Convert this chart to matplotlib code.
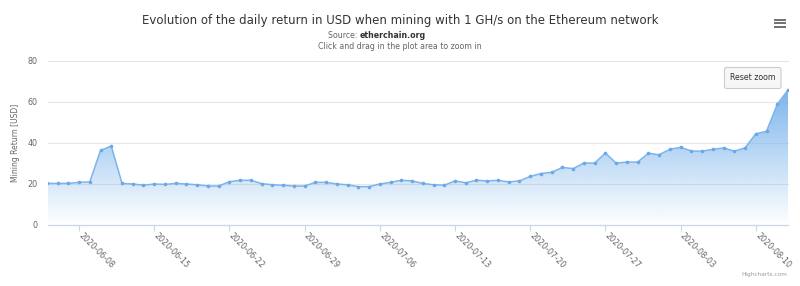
import numpy as np
import matplotlib
matplotlib.use("Agg")
import matplotlib.pyplot as plt
import matplotlib.dates as mdates
import matplotlib.transforms as mtransforms
from matplotlib.patches import FancyBboxPatch
from matplotlib.lines import Line2D
import datetime as dt

# ---------------- data ----------------
start_date = "2020-06-05"
returns_usd = [20.3, 20.3, 20.3, 20.8, 21.0, 36.4, 38.5, 20.3, 20.0, 19.4,
               20.0, 19.8, 20.3, 20.0, 19.6, 19.0, 19.0, 21.1, 21.8, 21.8,
               20.2, 19.6, 19.4, 19.0, 19.0, 20.8, 20.8, 20.0, 19.6, 18.7,
               18.7, 20.0, 20.8, 21.8, 21.5, 20.3, 19.6, 19.4, 21.5, 20.6,
               21.8, 21.5, 21.8, 21.0, 21.5, 23.7, 25.1, 25.7, 28.1, 27.5,
               30.2, 30.2, 35.1, 30.2, 30.7, 30.7, 35.0, 34.3, 36.9, 37.9,
               36.1, 36.0, 36.9, 37.6, 36.0, 37.6, 44.5, 45.7, 58.9, 65.9]
tick_labels = ["2020-06-08", "2020-06-15", "2020-06-22", "2020-06-29",
               "2020-07-06", "2020-07-13", "2020-07-20", "2020-07-27",
               "2020-08-03", "2020-08-10"]
y_ticks = [0, 20, 40, 60, 80]

title = "Evolution of the daily return in USD when mining with 1 GH/s on the Ethereum network"
subtitle_prefix = "Source: "
subtitle_link = "etherchain.org"
subtitle_line2 = "Click and drag in the plot area to zoom in"
y_title = "Mining Return [USD]"

# ---------------- setup ----------------
W, H = 800, 286
fig = plt.figure(figsize=(W / 100, H / 100), dpi=100)
plt.rcParams["font.family"] = ["DejaVu Sans"]

def fx(px):
    return px / W

def fy(py):
    return 1 - py / H

ax_l, ax_r, ax_t, ax_b = 48, 788, 61, 225
ax = fig.add_axes([fx(ax_l), fy(ax_b), fx(ax_r) - fx(ax_l), (ax_b - ax_t) / H])

d0 = dt.datetime.strptime(start_date, "%Y-%m-%d")
dates = [d0 + dt.timedelta(days=i) for i in range(len(returns_usd))]
xs = mdates.date2num(dates)
ys = np.array(returns_usd)

color = "#7cb5ec"
rgb = matplotlib.colors.to_rgb(color)

xmin = xs[0] + 0.11
xmax = xs[-1]

# gradient fill
n = 256
grad = np.zeros((n, 1, 4))
grad[..., 0], grad[..., 1], grad[..., 2] = rgb
grad[:, 0, 3] = np.linspace(0, 1, n)
poly = ax.fill_between(xs, ys, 0, facecolor="none", edgecolor="none")
im = ax.imshow(grad, extent=[xs[0], xs[-1], 0, ys.max()], origin="lower",
               aspect="auto", zorder=1, interpolation="bilinear")
im.set_clip_path(poly.get_paths()[0], transform=ax.transData)

ax.plot(xs, ys, color=color, lw=1.1, zorder=3, marker="o", markersize=2.6,
        markeredgewidth=0, markerfacecolor="#6aa8e6")

ax.set_xlim(xmin, xmax)
ax.set_ylim(0, 80)

# grid / spines
ax.set_yticks(y_ticks)
ax.yaxis.grid(True, color="#e6e6e6", lw=0.8)
for gl in ax.get_ygridlines():
    gl.set_clip_on(False)
ax.set_axisbelow(True)
for s in ["top", "right", "left"]:
    ax.spines[s].set_visible(False)
ax.spines["bottom"].set_color("#ccd6eb")
ax.spines["bottom"].set_linewidth(0.9)
ax.spines["bottom"].set_zorder(4)

ax.tick_params(axis="y", length=0, pad=7.5, labelsize=5.8, labelcolor="#666666")
ax.set_yticklabels([str(v) for v in y_ticks])

tick_pos = mdates.date2num([dt.datetime.strptime(t, "%Y-%m-%d") for t in tick_labels])
ax.set_xticks(tick_pos)
ax.set_xticklabels(tick_labels)
ax.tick_params(axis="x", length=4.5, width=0.8, color="#ccd6eb", pad=2,
               labelsize=5.8, labelcolor="#666666")
offset = mtransforms.ScaledTranslation(1 / 100, 0, fig.dpi_scale_trans)
for lab in ax.get_xticklabels():
    lab.set_rotation(-45)
    lab.set_ha("left")
    lab.set_va("center")
    lab.set_rotation_mode("anchor")
    lab.set_transform(lab.get_transform() + offset)

ylab = ax.set_ylabel(y_title, color="#666666", fontsize=5.6)
ax.yaxis.set_label_coords((20 - ax_l) / (ax_r - ax_l), 0.5)

# ---------------- texts ----------------
renderer = fig.canvas.get_renderer()

def fit(t, width_px, vertical=False):
    bb = t.get_window_extent(renderer)
    cur = bb.height if vertical else bb.width
    t.set_fontsize(t.get_fontsize() * width_px / cur)

t_title = fig.text(0.5, fy(20.5), title, ha="center", va="center",
                   color="#333333", fontsize=9)
fit(t_title, 516)

t_sub2 = fig.text(0.5, fy(46.5), subtitle_line2, ha="center", va="center",
                  color="#666666", fontsize=6)
fit(t_sub2, 164)
fs_sub = t_sub2.get_fontsize()

t_pre = fig.text(fx(328), fy(35.5), subtitle_prefix, ha="left", va="center",
                 color="#666666", fontsize=fs_sub)
bb = t_pre.get_window_extent(renderer)
t_link = fig.text(fx(328) + bb.width / W, fy(35.5), subtitle_link, ha="left",
                  va="center", color="#333333", fontsize=fs_sub, fontweight="bold")

fit(ylab, 78, vertical=True)

t_credit = fig.text(fx(787), fy(274.5), "Highcharts.com", ha="right", va="center",
                    color="#999999", fontsize=4.5)
fit(t_credit, 46)

# reset zoom button
bx0, bx1, by0, by1 = 724.5, 781, 67.5, 88.5
btn = FancyBboxPatch(((bx0) / 100, (H - by1) / 100), (bx1 - bx0) / 100, (by1 - by0) / 100,
                     boxstyle="round,pad=0,rounding_size=0.02",
                     transform=fig.dpi_scale_trans, facecolor="#f7f7f7",
                     edgecolor="#cccccc", linewidth=0.8, zorder=10)
fig.add_artist(btn)
t_btn = fig.text(fx((bx0 + bx1) / 2), fy(78), "Reset zoom", ha="center", va="center",
                 color="#333333", fontsize=6, zorder=11)
fit(t_btn, 46)

# hamburger menu
for yy in (19.5, 23, 26.5):
    fig.add_artist(Line2D([774 / 100, 786 / 100], [(H - yy) / 100, (H - yy) / 100],
                          transform=fig.dpi_scale_trans, color="#666666", lw=1.3,
                          solid_capstyle="butt"))

fig.savefig("out.png", dpi=100)
